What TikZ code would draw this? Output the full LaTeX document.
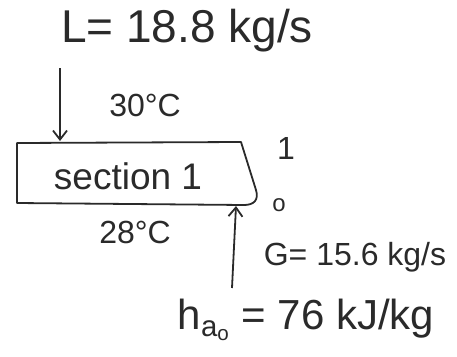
\documentclass[tikz,border=0pt]{standalone}
\usepackage{fontspec}
\setmainfont{Liberation Sans}
\usetikzlibrary{arrows.meta}
\definecolor{ink}{HTML}{2A2A2A}
\begin{document}
\begin{tikzpicture}[x=1pt,y=-1pt,
  every node/.style={text=ink,inner sep=0pt},
  lbl/.style={font=\fontsize{32}{36}\selectfont},
  big/.style={font=\fontsize{46}{50}\selectfont},
  flow/.style={draw=ink,line width=1.8pt,-{Straight Barb[length=9pt,width=14pt,line width=1.8pt]}},
  boxline/.style={draw=ink,line width=1.8pt,line join=round}]
\useasboundingbox (0,0) rectangle (457,356);
% box
\draw[boxline] (17,203) -- (17,143) -- (241,142) -- (256,190)
  .. controls (259,200) and (254,205) .. (244,205) -- cycle;
\node[font=\fontsize{37}{40}\selectfont] (sec) at (128,176) {section 1};
% coordinates on the box
\coordinate (topin) at (60,141);
\coordinate (botin) at (236,206);
\coordinate (lstart) at (60,68);
\coordinate (gstart) at (232,288);
% labels
\node[big] (L) at (187,31) {L= 18.8 kg/s};
\node[lbl] (t30) at (145,105) {30°C};
\node[lbl] (one) at (286,148) {1};
\node[font=\fontsize{24}{26}\selectfont] (zero) at (279,205) {o};
\node[lbl] (t28) at (135,232) {28°C};
\node[lbl] (G) at (355,257) {G= 15.6 kg/s};
\node[font=\fontsize{42}{46}\selectfont] (h) at (306,320) {h\textsubscript{a\textsubscript{o}} = 76 kJ/kg};
% arrows
\draw[flow] (lstart) -- (topin);
\draw[flow] (gstart) -- (botin);
\end{tikzpicture}
\end{document}
